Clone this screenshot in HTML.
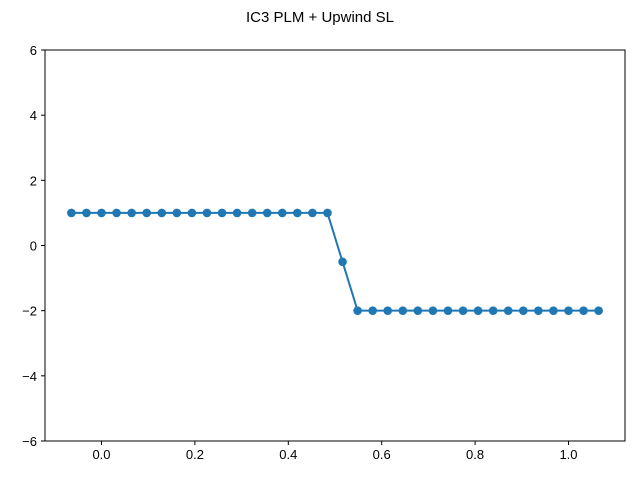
<!DOCTYPE html>
<html><head><meta charset="utf-8"><style>
body{margin:0;background:#fff;}
svg text{font-family:"Liberation Sans","DejaVu Sans",sans-serif;fill:#000;}
</style></head><body>
<svg id="chart" width="640" height="480" xmlns="http://www.w3.org/2000/svg">
<rect width="640" height="480" fill="#fff"/>
<text x="320" y="22" font-size="15" text-anchor="middle">IC3 PLM + Upwind SL</text>
<g id="plot"></g>
<rect x="45" y="50" width="580" height="391" fill="none" stroke="#000" stroke-width="1"/>
</svg>
<script>
const pointIndex = [0,1,2,3,4,5,6,7,8,9,10,11,12,13,14,15,16,17,18,19,20,21,22,23,24,25,26,27,28,29,30,31,32,33,34,35];
const yValues = [1,1,1,1,1,1,1,1,1,1,1,1,1,1,1,1,1,1,-0.5,-2,-2,-2,-2,-2,-2,-2,-2,-2,-2,-2,-2,-2,-2,-2,-2,-2];
const xTicks = [0.0,0.2,0.4,0.6,0.8,1.0];
const xTickLabels = ["0.0","0.2","0.4","0.6","0.8","1.0"];
const yTicks = [-6,-4,-2,0,2,4,6];
const yTickLabels = ["\u22126","\u22124","\u22122","0","2","4","6"];

const xVals = pointIndex.map(i => (i - 2) / 31);
const L=45,R=625,T=50,B=441;
const xmin=-0.121, xmax=1.121, ymin=-6, ymax=6;
const sx = v => L + (v - xmin) / (xmax - xmin) * (R - L);
const sy = v => B - (v - ymin) / (ymax - ymin) * (B - T);
const NS="http://www.w3.org/2000/svg";
const g=document.getElementById('plot');
function mk(tag, attrs){const e=document.createElementNS(NS,tag);for(const k in attrs)e.setAttribute(k,attrs[k]);g.appendChild(e);return e;}

xTicks.forEach((t,i)=>{
  const x=sx(t);
  const tk=mk('line',{x1:x,x2:x,y1:B,y2:B+4,stroke:'#000'});
  
  
  const tx=mk('text',{x:x,y:B+18,'font-size':'13','text-anchor':'middle'});
  tx.textContent=xTickLabels[i];
  
  
});
yTicks.forEach((t,i)=>{
  const y=sy(t);
  const tk=mk('line',{x1:L-4,x2:L,y1:y,y2:y,stroke:'#000'});
  
  
  const tx=mk('text',{x:L-8,y:y+5,'font-size':'13','text-anchor':'end'});
  tx.textContent=yTickLabels[i];
  
  
});
const pts=xVals.map((x,i)=>sx(x).toFixed(2)+','+sy(yValues[i]).toFixed(2)).join(' ');
const line=mk('polyline',{points:pts,fill:'none',stroke:'#1f77b4','stroke-width':'2'});


xVals.forEach((x,i)=>{
  const c=mk('circle',{cx:sx(x),cy:sy(yValues[i]),r:4.3,fill:'#1f77b4'});
  
  
});
</script>
</body></html>
